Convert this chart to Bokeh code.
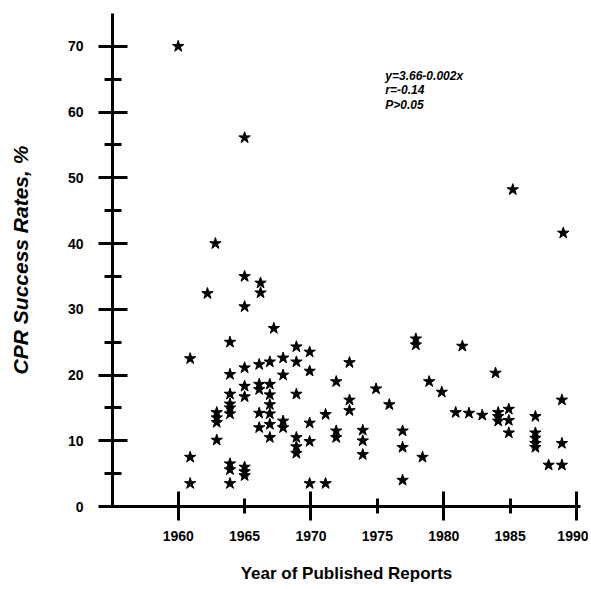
from bokeh.plotting import figure
from bokeh.models import Range1d, FixedTicker, Label
from bokeh.embed import file_html
from bokeh.resources import INLINE

# Data (year of report, CPR success rate %)
years = [
    1960.0,
    1960.9, 1960.9, 1960.9,
    1962.2, 1962.8,
    1962.9, 1962.9, 1962.9, 1962.9,
    1963.9, 1963.9, 1963.9, 1963.9, 1963.9, 1963.9, 1963.9, 1963.9, 1963.9,
    1965.0, 1965.0, 1965.0, 1965.0, 1965.0, 1965.0, 1965.0, 1965.0, 1965.0,
    1966.2, 1966.2, 1966.1, 1966.1, 1966.1, 1966.1, 1966.1,
    1967.2, 1966.9, 1966.9, 1966.9, 1966.9, 1966.9, 1966.9, 1966.9,
    1967.9, 1967.9, 1967.9, 1967.9,
    1968.9, 1968.9, 1968.9, 1968.9, 1968.9, 1968.9,
    1969.9, 1969.9, 1969.9, 1969.9, 1969.9,
    1971.1, 1971.1,
    1971.9, 1971.9, 1971.9,
    1972.9, 1972.9, 1972.9,
    1973.9, 1973.9, 1973.9,
    1974.9,
    1975.9,
    1976.9, 1976.9, 1976.9,
    1977.9, 1977.9,
    1978.4,
    1978.9,
    1979.85,
    1980.9,
    1981.4,
    1981.9,
    1982.9,
    1983.9,
    1984.1, 1984.1, 1984.1,
    1985.2, 1984.9, 1984.9, 1984.9,
    1986.9, 1986.9, 1986.9, 1986.9, 1986.9,
    1987.9,
    1989.0, 1988.9, 1988.9, 1988.9,
]
rates = [
    70.0,
    22.5, 7.5, 3.5,
    32.4, 40.0,
    14.3, 13.5, 12.8, 10.1,
    25.0, 20.1, 17.1, 15.6, 15.0, 14.1, 6.5, 5.6, 3.5,
    56.1, 35.0, 30.4, 21.1, 18.3, 16.7, 6.0, 5.3, 4.7,
    34.0, 32.5, 21.6, 18.6, 17.8, 14.2, 12.0,
    27.1, 22.0, 18.6, 17.0, 15.5, 14.1, 12.5, 10.5,
    22.6, 20.0, 13.0, 12.0,
    24.3, 22.0, 17.1, 10.5, 9.1, 8.1,
    23.5, 20.6, 12.7, 9.9, 3.5,
    14.0, 3.5,
    19.0, 11.5, 10.5,
    21.9, 16.2, 14.6,
    11.6, 10.0, 7.9,
    17.9,
    15.5,
    11.5, 9.0, 4.0,
    25.5, 24.6,
    7.5,
    19.0,
    17.4,
    14.3,
    24.4,
    14.2,
    13.9,
    20.3,
    14.3, 13.7, 13.0,
    48.2, 14.8, 13.1, 11.2,
    13.7, 11.2, 10.4, 9.6, 9.0,
    6.3,
    41.6, 16.2, 9.6, 6.3,
]

y_ticks = [0, 10, 20, 30, 40, 50, 60, 70]
y_minor = [5, 15, 25, 35, 45, 55, 65]
x_ticks = [1960, 1965, 1970, 1975, 1980, 1985, 1990]
x_long = [1960, 1970, 1980, 1990]
annotation = ["y=3.66-0.002x", "r=-0.14", "P>0.05"]

FONT = "Liberation Sans"

p = figure(width=588, height=587, output_backend="svg", toolbar_location=None,
           x_range=Range1d(1955.05, 1990.3), y_range=Range1d(0, 75.0),
           min_border_left=112, min_border_right=8, min_border_top=13,
           min_border_bottom=81)
p.outline_line_color = None
p.xgrid.visible = False
p.ygrid.visible = False
p.background_fill_color = "white"

p.scatter(years, rates, marker="star", size=12, fill_color="black",
          line_color="black", line_width=1)

# y axis
ya = p.yaxis[0]
ya.ticker = FixedTicker(ticks=y_ticks, minor_ticks=y_minor)
ya.axis_line_width = 3
ya.axis_line_color = "black"
ya.major_tick_line_width = 3
ya.minor_tick_line_width = 3
ya.major_tick_line_color = "black"
ya.minor_tick_line_color = "black"
ya.major_tick_in = 15
ya.major_tick_out = 14
ya.minor_tick_in = 9
ya.minor_tick_out = 8
ya.major_label_standoff = 15
ya.major_label_text_font = FONT
ya.major_label_text_font_style = "bold"
ya.major_label_text_font_size = "14px"
ya.major_label_text_color = "black"
ya.axis_label = "CPR Success Rates, %"
ya.axis_label_text_font = FONT
ya.axis_label_text_font_style = "bold italic"
ya.axis_label_text_font_size = "21px"
ya.axis_label_text_color = "black"
ya.axis_label_standoff = 33

# x axis
xa = p.xaxis[0]
xa.ticker = FixedTicker(ticks=x_ticks, minor_ticks=x_long)
xa.axis_line_width = 3
xa.axis_line_color = "black"
xa.major_tick_line_width = 3
xa.minor_tick_line_width = 3
xa.major_tick_line_color = "black"
xa.minor_tick_line_color = "black"
xa.major_tick_in = 8
xa.major_tick_out = 7
xa.minor_tick_in = 15
xa.minor_tick_out = 14
xa.major_label_standoff = 10
xa.major_label_text_font = FONT
xa.major_label_text_font_style = "bold"
xa.major_label_text_font_size = "14px"
xa.major_label_text_color = "black"
xa.axis_label = "Year of Published Reports"
xa.axis_label_text_font = FONT
xa.axis_label_text_font_style = "bold"
xa.axis_label_text_font_size = "17px"
xa.axis_label_text_color = "black"
xa.axis_label_standoff = 20

# regression annotation
for i, line in enumerate(annotation):
    p.add_layout(Label(x=1975.6, y=66.6, y_offset=-14.5 * i, text=line,
                       text_font=FONT, text_font_style="bold italic",
                       text_font_size="12px", text_color="black",
                       text_align="left", text_baseline="top"))

open("out.html", "w").write(file_html(p, INLINE))
